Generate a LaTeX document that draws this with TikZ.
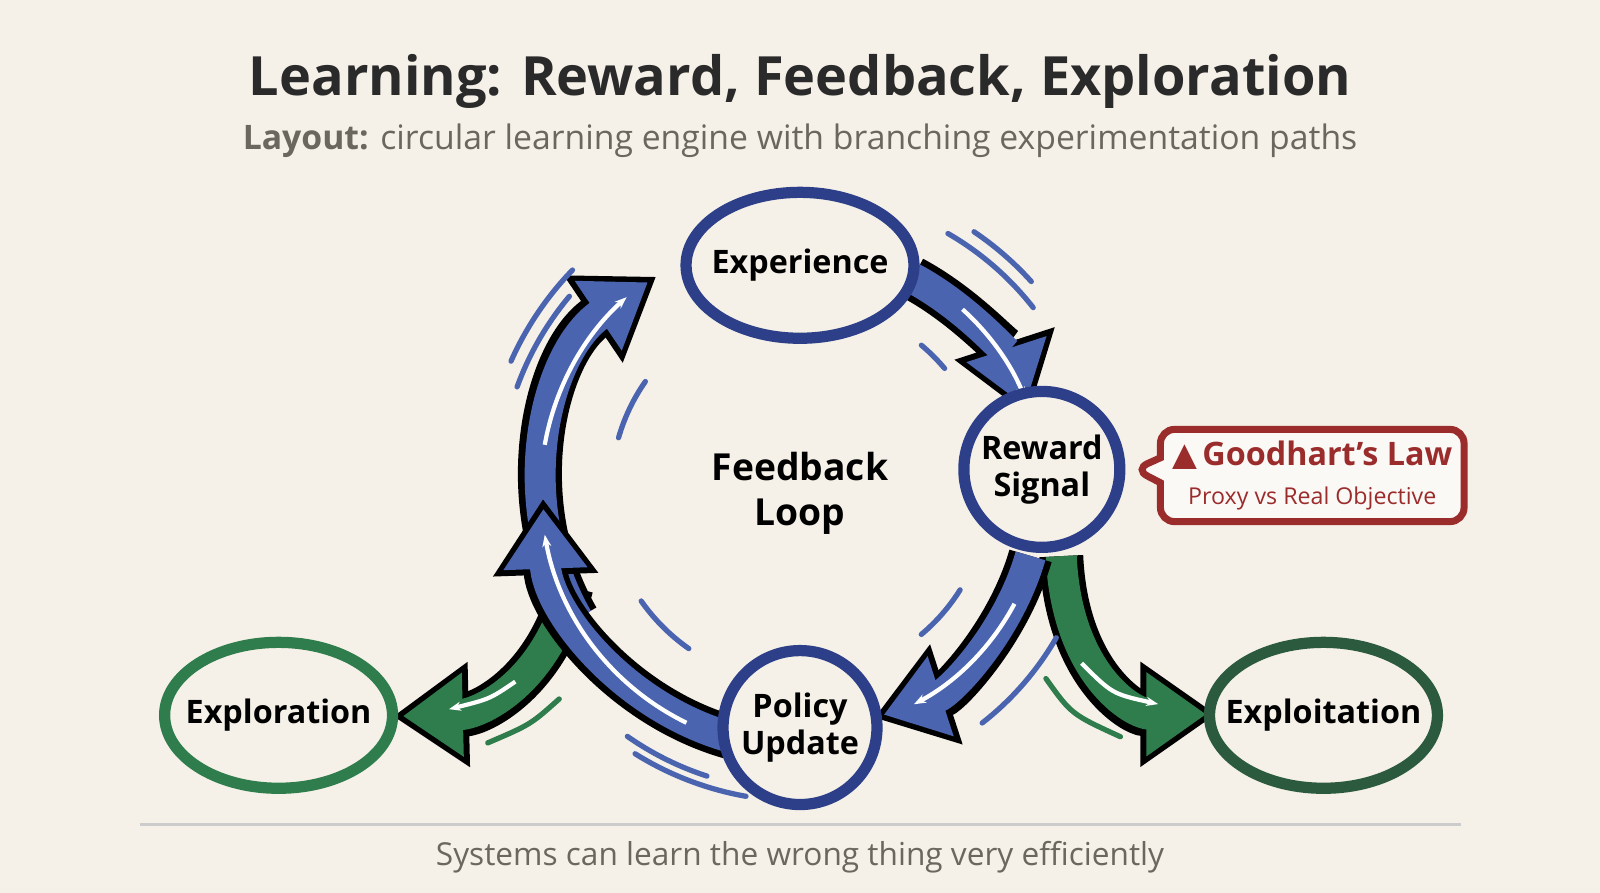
\documentclass[tikz,border=0pt]{standalone}
\usepackage{fontspec}
\setmainfont{Open Sans}
\usetikzlibrary{arrows.meta,shapes.geometric,shapes.callouts}
\definecolor{paper}{HTML}{F5F1E8}
\definecolor{loopblue}{HTML}{4A64B0}
\definecolor{rimblue}{HTML}{2E3F8A}
\definecolor{leafgreen}{HTML}{2F7D4C}
\definecolor{darkgreen}{HTML}{2C5A3E}
\definecolor{warnred}{HTML}{9B2C2C}
\definecolor{inkgray}{HTML}{2A2A2A}
\definecolor{subgray}{HTML}{6B665E}
\tikzset{
  stage/.style={draw=rimblue, line width=3.2pt, fill=paper, font=\bfseries\fontsize{9.2}{10.5}\selectfont, align=center, inner sep=0},
  oval/.style={stage, ellipse, inner xsep=-0.2cm, inner ysep=0.1cm, minimum width=2.28cm, minimum height=1.46cm},
  rim/.style={line width=0.44cm, draw=black, -{Triangle[width=1cm,length=0.76cm]}},
  body/.style={line width=0.31cm, draw=#1, shorten >=0.1cm, -{Triangle[width=0.8cm,length=0.6cm]}},
  glint/.style={line width=1.2pt, draw=white, -{Stealth[length=0.12cm]}},
  swish/.style={line width=1.5pt, draw=#1, line cap=round}
}
\begin{document}
\begin{tikzpicture}[x=0.010204cm,y=-0.010204cm]
  \fill[paper] (0,0) rectangle (1568,875);
  \useasboundingbox (0,0) rectangle (1568,875);
  % Titles:
  \node[font=\bfseries\fontsize{15.4}{18}\selectfont, text=inkgray] (title) at (784,80) {Learning: Reward, Feedback, Exploration};
  \node[font=\fontsize{9.6}{12}\selectfont, text=subgray] (subtitle) at (784,138) {\textbf{Layout:} circular learning engine with branching experimentation paths};
  % Branches:
  \coordinate (forkL) at (560,575);
  \coordinate (forkR) at (1040,545);
  \draw[rim] (forkL) .. controls (535,670) and (470,700) .. (385,702);
  \draw[body=leafgreen] (forkL) .. controls (535,670) and (470,700) .. (385,702);
  \draw[rim] (forkR) .. controls (1045,660) and (1110,700) .. (1192,700);
  \draw[body=leafgreen] (forkR) .. controls (1045,660) and (1110,700) .. (1192,700);
  \draw[glint] (505,668) .. controls (480,685) .. (440,695);
  \draw[glint] (1060,650) .. controls (1090,680) .. (1135,690);
  \draw[swish=leafgreen] (548,685) .. controls (520,710) .. (478,728);
  \draw[swish=leafgreen] (1025,665) .. controls (1050,700) .. (1098,722);
  % Loop arcs:
  \coordinate (hub) at (784,480);
  \foreach \a/\b/\r in {-62/-18/235, 16/72/235, 150/236/252, 106/178/252} {
    \draw[rim] (hub) ++(\a:\r) arc[start angle=\a, end angle=\b, radius=\r];
    \draw[body=loopblue] (hub) ++(\a:\r) arc[start angle=\a, end angle=\b, radius=\r];
  }
  \foreach \a/\b/\r in {-48/-22/238, 28/62/238, 116/170/254, 190/228/254}
    \draw[glint] (hub) ++(\a:\r) arc[start angle=\a, end angle=\b, radius=\r];
  % Speed strokes:
  \foreach \a/\b/\r in {-60/-38/290, -56/-42/305, -50/-40/185, 30/52/290, 32/50/185, 108/125/295, 100/122/305, 125/145/190, 200/220/295, 204/224/310, 196/215/185}
    \draw[swish=loopblue] (hub) ++(\a:\r) arc[start angle=\a, end angle=\b, radius=\r];
  % Nodes:
  \node[oval] (experience) at (784,260) {Experience};
  \node[stage, circle, minimum size=1.56cm] (reward) at (1021,460) {Reward\\Signal};
  \node[stage, circle, minimum size=1.54cm] (policy) at (784,713) {Policy\\Update};
  \node[font=\bfseries\fontsize{10.6}{12.8}\selectfont, align=center] (loop) at (784,483) {Feedback\\Loop};
  \node[oval, draw=leafgreen] (exploration) at (273,701) {Exploration};
  \node[oval, draw=darkgreen] (exploitation) at (1297,701) {Exploitation};
  \node[rectangle callout, draw=warnred, line width=2pt, fill=white!60!paper, rounded corners=4pt, minimum width=2.96cm, minimum height=0.92cm, align=center,
    callout absolute pointer={(1112,460)}] (goodhart) at (1286,466)
    {{\color{warnred}\bfseries\fontsize{9.2}{11}\selectfont\textcolor{warnred}{\fontspec{DejaVu Sans}▲}\,Goodhart’s Law}\\[-1pt]{\color{warnred}\fontsize{6.6}{8}\selectfont Proxy vs Real Objective}};
  % Footer:
  \coordinate (ruleL) at (137,808);
  \coordinate (ruleR) at (1432,808);
  \draw[line width=0.8pt, draw=black!20] (ruleL) -- (ruleR);
  \node[font=\fontsize{9}{11}\selectfont, text=subgray] (footer) at (784,840) {Systems can learn the wrong thing very efficiently};
\end{tikzpicture}
\end{document}
